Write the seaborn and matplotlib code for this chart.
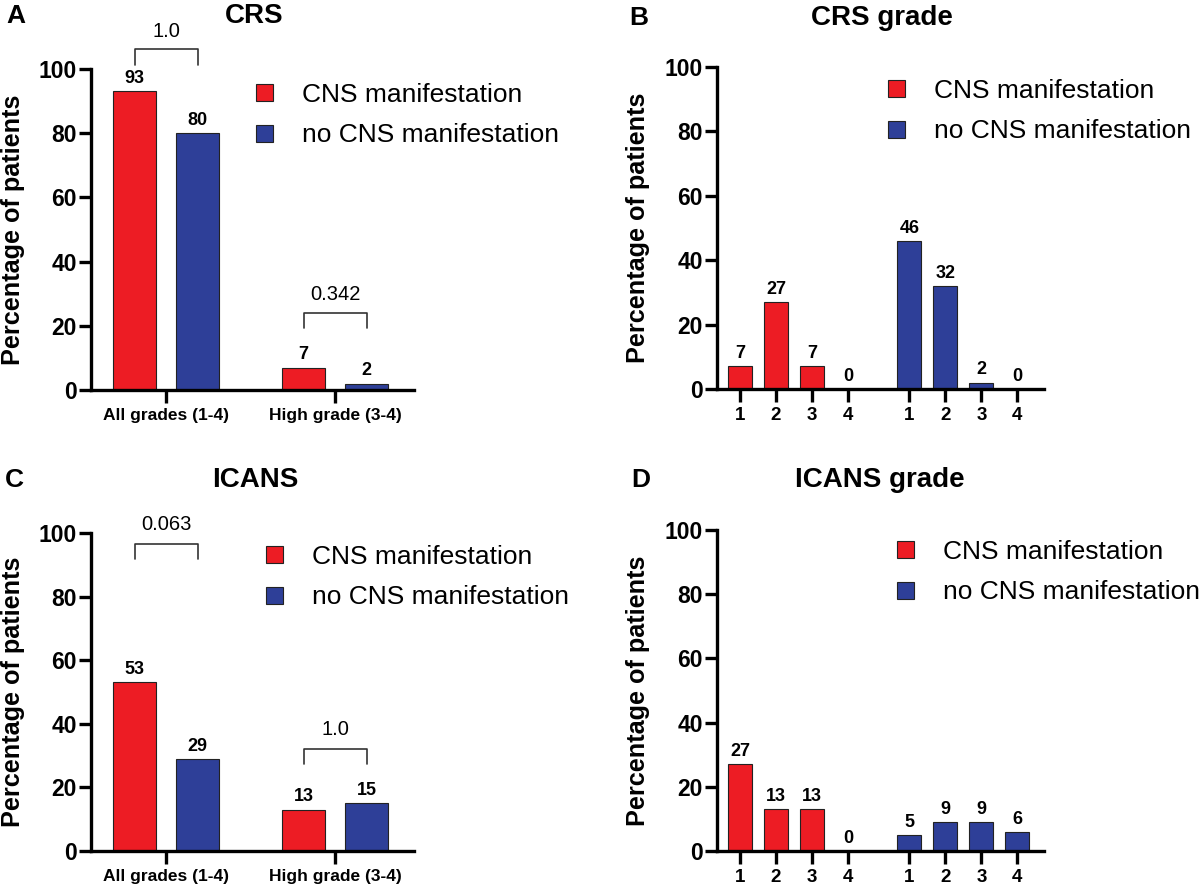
import numpy as np
import pandas as pd
import matplotlib
matplotlib.use('Agg')
import matplotlib.pyplot as plt
import seaborn as sns

# data
groups = ['CNS manifestation', 'no CNS manifestation']
overall_cats = ['All grades (1-4)', 'High grade (3-4)']
grade_ticks = ['1', '2', '3', '4']

crs_cns = [93, 7]
crs_no_cns = [80, 2]
crs_pvals = ['1.0', '0.342']

icans_cns = [53, 13]
icans_no_cns = [29, 15]
icans_pvals = ['0.063', '1.0']

crs_grade_cns = [7, 27, 7, 0]
crs_grade_no_cns = [46, 32, 2, 0]
icans_grade_cns = [27, 13, 13, 0]
icans_grade_no_cns = [5, 9, 9, 6]

RED = '#ED1C24'
BLUE = '#2E3F98'
W, H = 1200, 888

sns.set_style('ticks')
plt.rcParams['font.family'] = ['Liberation Sans', 'DejaVu Sans']
for k in ['text.color', 'axes.labelcolor', 'xtick.color', 'ytick.color', 'axes.edgecolor']:
    plt.rcParams[k] = 'black'

fig = plt.figure(figsize=(12, 8.88), dpi=100)


def px_axes(left, top, right, bottom):
    return fig.add_axes([left / W, 1 - bottom / H, (right - left) / W, (bottom - top) / H])


def style(ax):
    sns.despine(ax=ax)
    for s in ['left', 'bottom']:
        ax.spines[s].set_linewidth(2.4)
    ax.set_ylim(0, 100)
    ax.set_yticks(range(0, 101, 20))
    ax.set_yticklabels([str(v) for v in range(0, 101, 20)], fontweight='bold')
    ax.tick_params(axis='y', length=9, width=2.4, pad=1, labelsize=16.5)
    ax.tick_params(axis='x', length=9, width=2.4, pad=4, labelsize=12.5)
    ax.set_xlabel('')
    ax.set_ylabel('Percentage of patients', fontsize=18.2, fontweight='bold')
    ax.yaxis.set_label_coords(-0.205, 0.5)


def labels(ax):
    for c in ax.containers:
        ax.bar_label(c, fmt='%d', padding=3, fontsize=13, fontweight='bold')


def legend(ax, x, y):
    sns.move_legend(ax, loc='upper left', bbox_to_anchor=(x / W, 1 - y / H),
                    bbox_transform=fig.transFigure, title=None, frameon=False,
                    fontsize=19, handlelength=0.64, handleheight=0.62,
                    handletextpad=1.1, labelspacing=0.62, borderpad=0,
                    borderaxespad=0)


def bracket(ax, i, y_low, y_top, text, text_y):
    p1 = ax.containers[0][i]
    p2 = ax.containers[1][i]
    x1 = p1.get_x() + p1.get_width() / 2
    x2 = p2.get_x() + p2.get_width() / 2
    ax.plot([x1, x1, x2, x2], [y_low, y_top, y_top, y_low], color='#333333',
            lw=1.2, clip_on=False)
    ax.text((x1 + x2) / 2, text_y, text, ha='center', va='baseline', fontsize=14.5)


def overall_panel(ax, cns, no_cns):
    df = pd.DataFrame({'grade': overall_cats * 2,
                       'pct': cns + no_cns,
                       'group': [groups[0]] * 2 + [groups[1]] * 2})
    sns.barplot(data=df, x='grade', y='pct', hue='group', palette=[RED, BLUE],
                width=0.746, gap=0.33, edgecolor='#222222', linewidth=0.8,
                errorbar=None, saturation=1, ax=ax)
    style(ax)
    ax.set_xticks(range(len(overall_cats)))
    ax.set_xticklabels(overall_cats, fontweight='bold')
    ax.set_xlim(-0.444, 1.467)
    labels(ax)


def grade_panel(ax, cns, no_cns):
    pos = [i + g * 4.7 for g in range(2) for i in range(4)]
    df = pd.DataFrame({'pos': pos,
                       'pct': cns + no_cns,
                       'group': [groups[0]] * 4 + [groups[1]] * 4})
    sns.barplot(data=df, x='pos', y='pct', hue='group', palette=[RED, BLUE],
                native_scale=True, dodge=False, width=0.67,
                edgecolor='#222222', linewidth=0.8, errorbar=None,
                saturation=1, ax=ax)
    style(ax)
    ax.set_xticks(pos)
    ax.set_xticklabels(grade_ticks * 2, fontweight='bold', fontsize=13.5)
    ax.set_xlim(-0.64, 8.44)
    labels(ax)


# A: CRS
axA = px_axes(91, 69, 414, 390)
overall_panel(axA, crs_cns, crs_no_cns)
bracket(axA, 0, 101.2, 106.2, crs_pvals[0], 110)
bracket(axA, 1, 19.3, 24, crs_pvals[1], 28)
legend(axA, 256, 83)

# B: CRS grade
axB = px_axes(717, 67, 1044, 389)
grade_panel(axB, crs_grade_cns, crs_grade_no_cns)
legend(axB, 888, 79)

# C: ICANS
axC = px_axes(91, 533, 414, 851)
overall_panel(axC, icans_cns, icans_no_cns)
bracket(axC, 0, 91.8, 96.5, icans_pvals[0], 101)
bracket(axC, 1, 27.4, 32, icans_pvals[1], 36.5)
legend(axC, 266, 545)

# D: ICANS grade
axD = px_axes(717, 530, 1044, 851)
grade_panel(axD, icans_grade_cns, icans_grade_no_cns)
legend(axD, 897, 540)

# titles and panel letters
for letter, lx, title, tx, by in [('A', 16, 'CRS', 254, 23),
                                  ('B', 639, 'CRS grade', 882, 25),
                                  ('C', 14, 'ICANS', 255, 487),
                                  ('D', 641, 'ICANS grade', 880, 487)]:
    fig.text(lx / W, 1 - by / H, letter, ha='center', va='baseline',
             fontsize=19, fontweight='bold')
    fig.text(tx / W, 1 - by / H, title, ha='center', va='baseline',
             fontsize=20, fontweight='bold')

fig.savefig('out.png', dpi=100)
